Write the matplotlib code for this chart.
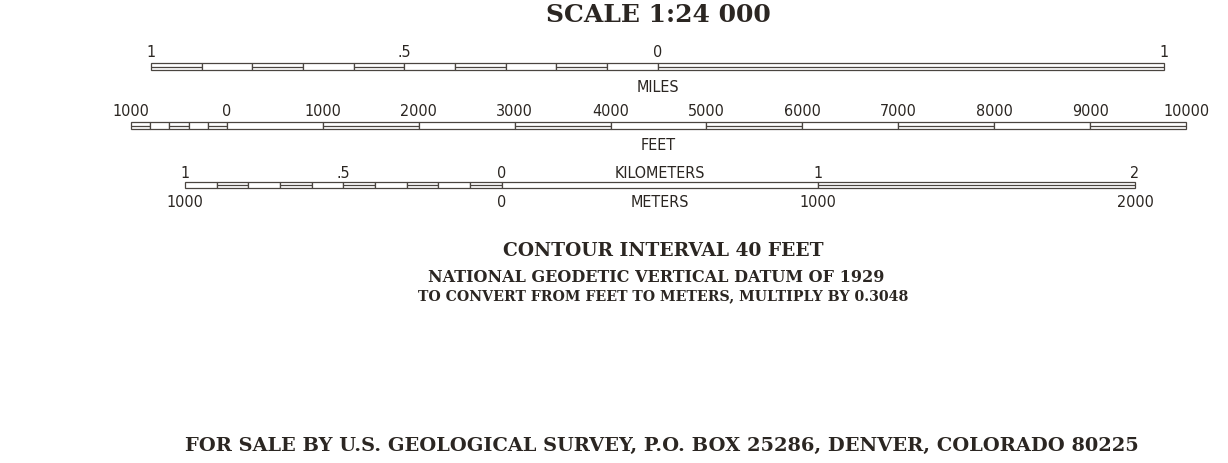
import numpy as np
import matplotlib
matplotlib.use("Agg")
import matplotlib.pyplot as plt

W, H = 1228, 464
INK = "#2b2622"
LINE = "#4a4540"
NARROW = ["DejaVu Sans"]
SERIF = ["DejaVu Serif"]

# miles bar: left part in tenths, then one whole mile
miles_edges = [-1, -0.9, -0.8, -0.7, -0.6, -0.5, -0.4, -0.3, -0.2, -0.1, 0, 1]
miles_striped = [1, 0, 1, 0, 1, 0, 1, 0, 1, 0, 1]
miles_ticks = [-1, -0.5, 0, 1]
miles_labels = ["1", ".5", "0", "1"]

# feet bar
feet_edges = [-1000, -800, -600, -400, -200, 0, 1000, 2000, 3000, 4000, 5000,
              6000, 7000, 8000, 9000, 10000]
feet_striped = [1, 0, 1, 0, 1, 0, 1, 0, 1, 0, 1, 0, 1, 0, 1]
feet_ticks = [-1000, 0, 1000, 2000, 3000, 4000, 5000, 6000, 7000, 8000, 9000, 10000]
feet_labels = ["1000", "0", "1000", "2000", "3000", "4000", "5000", "6000",
               "7000", "8000", "9000", "10000"]

# kilometer / meter bar
km_edges = [-1, -0.9, -0.8, -0.7, -0.6, -0.5, -0.4, -0.3, -0.2, -0.1, 0, 1, 2]
km_striped = [0, 1, 0, 1, 0, 1, 0, 1, 0, 1, 0, 1]
km_ticks = [-1, -0.5, 0, 1, 2]
km_labels = ["1", ".5", "0", "1", "2"]
m_ticks = [-1, 0, 1, 2]
m_labels = ["1000", "0", "1000", "2000"]

fig = plt.figure(figsize=(W / 100, H / 100), dpi=100)
fig.patch.set_facecolor("white")

LBL = dict(ha="center", va="center", fontsize=11.5, family=NARROW,
           fontstretch="condensed", color=INK, clip_on=False)


def bar_axes(x0, x1, xmin, xmax, yc):
    # axes placed in pixel terms, y runs downward in pixels around the bar
    ax = fig.add_axes([x0 / W, 1 - (yc + 40) / H, (x1 - x0) / W, 80 / H])
    ax.set_xlim(xmin, xmax)
    ax.set_ylim(40, -40)
    ax.axis("off")
    return ax


def draw_bar(ax, edges, striped):
    e = np.array(edges, dtype=float)
    s = np.array(striped, dtype=bool)
    ax.barh(0, np.diff(e), left=e[:-1], height=6.5, facecolor="white",
            edgecolor=LINE, linewidth=0.9, clip_on=False)
    ax.hlines(np.zeros(s.sum()), e[:-1][s], e[1:][s], color=LINE,
              linewidth=0.9, clip_on=False)


def labels(ax, ticks, texts, dy):
    for t, s in zip(ticks, texts):
        ax.text(t, dy, s, **LBL)


ax_mi = bar_axes(151, 1164, -1, 1, 67.5)
draw_bar(ax_mi, miles_edges, miles_striped)
labels(ax_mi, miles_ticks, miles_labels, -15)
ax_mi.text(0, 20, "MILES", **LBL)

ax_ft = bar_axes(131, 1186, -1000, 10000, 126.5)
draw_bar(ax_ft, feet_edges, feet_striped)
labels(ax_ft, feet_ticks, feet_labels, -15)
ax_ft.text(4500, 19.5, "FEET", **LBL)

ax_km = bar_axes(185, 1135, -1, 2, 186)
draw_bar(ax_km, km_edges, km_striped)
labels(ax_km, km_ticks, km_labels, -12.5)
labels(ax_km, m_ticks, m_labels, 17)
ax_km.text(0.5, -12.5, "KILOMETERS", **LBL)
ax_km.text(0.5, 17, "METERS", **LBL)

TTL = dict(ha="center", va="center", fontweight="bold", family=SERIF, color=INK)
fig.text(658 / W, 1 - 15 / H, "SCALE 1:24 000", fontsize=18, **TTL)
fig.text(663 / W, 1 - 251 / H, "CONTOUR INTERVAL 40 FEET", fontsize=13.4, **TTL)
fig.text(656 / W, 1 - 278 / H, "NATIONAL GEODETIC VERTICAL DATUM OF 1929",
         fontsize=11.5, **TTL)
fig.text(663 / W, 1 - 296 / H, "TO CONVERT FROM FEET TO METERS, MULTIPLY BY 0.3048",
         fontsize=10.15, **TTL)
fig.text(662 / W, 1 - 445.5 / H,
         "FOR SALE BY U.S. GEOLOGICAL SURVEY, P.O. BOX 25286, DENVER, COLORADO 80225",
         fontsize=13.95, **TTL)

fig.savefig("out.png", dpi=100, facecolor="white")
